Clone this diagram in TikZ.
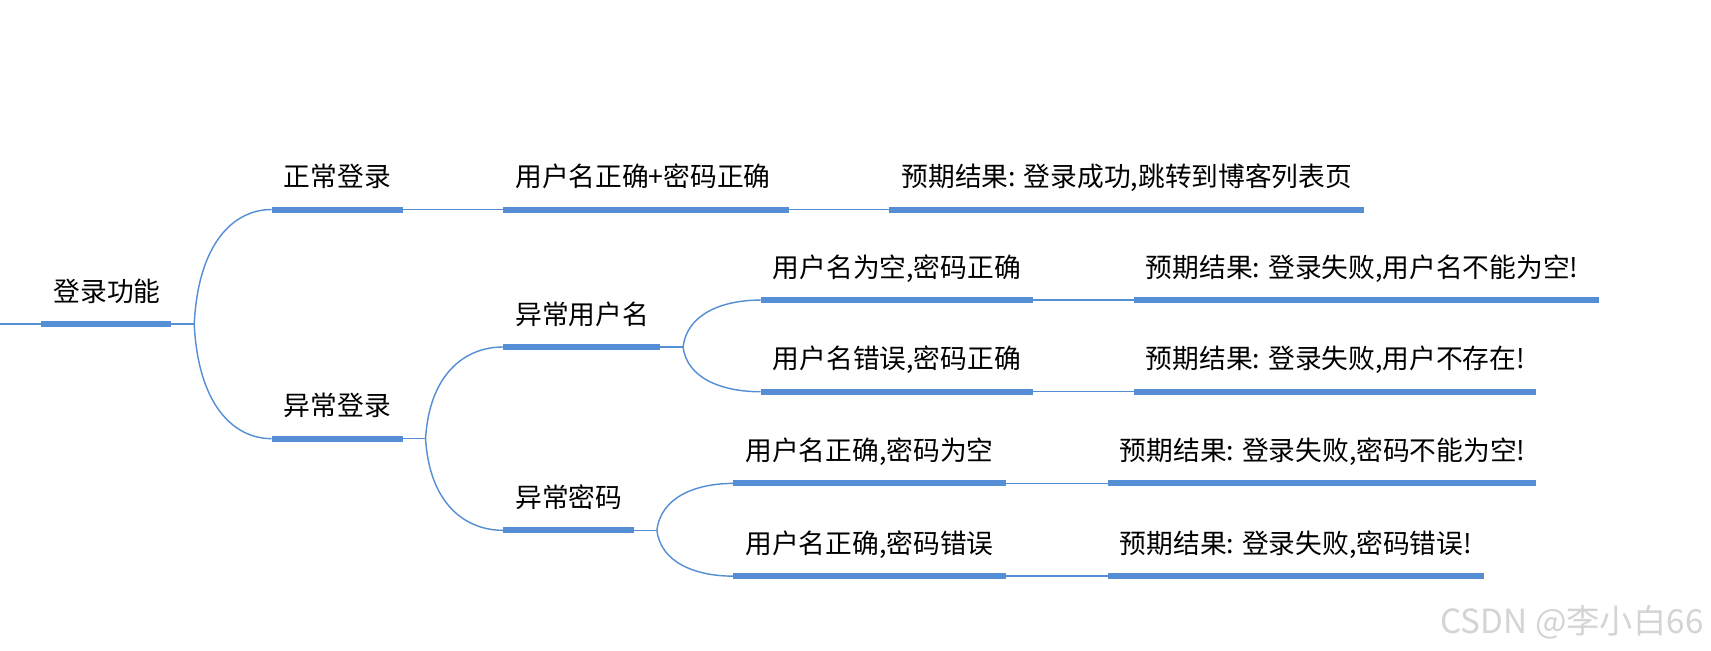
\documentclass[tikz,border=0pt]{standalone}
\usepackage{fontspec}
\setmainfont{Noto Sans CJK SC}
\usetikzlibrary{calc}
\definecolor{mblue}{HTML}{558ED5}
\definecolor{wmgray}{HTML}{D4D4D4}
\tikzset{
  bar/.style={draw=mblue, line width=5.5pt, line cap=butt},
  link/.style={draw=mblue, line width=1.3pt},
  lbl/.style={anchor=base west, inner sep=0pt, font=\fontsize{24.5}{28}\selectfont, text=black},
  wm/.style={anchor=west, inner sep=0pt, font=\fontsize{30.5}{33}\selectfont, text=wmgray},
}
\newcommand\topic[5]{%
  \coordinate (#1s) at (#2,#4);
  \coordinate (#1e) at (#3,#4);
  \draw[bar] (#1s) -- (#1e);
  \node[lbl] (#1) at ({#2+11},{#4-21}) {#5};
}
\newcommand\curvelink[2]{%
  \draw[link] let \p1=(#1), \p2=(#2) in (#1) .. controls ({\x1+0.05*(\x2-\x1)},{\y1+0.7*(\y2-\y1)}) and ({\x1+0.5*(\x2-\x1)},{\y2}) .. (#2);
}
\begin{document}
\begin{tikzpicture}[x=1pt,y=-1pt]
\useasboundingbox[fill=white] (0,0) rectangle (1568,596);
% topics
\topic{r}{38}{157}{297}{登录功能}
\topic{a}{249}{369}{192}{正常登录}
\topic{aa}{461}{723}{192}{用户名正确+密码正确}
\topic{aar}{815}{1250}{192}{预期结果: 登录成功,跳转到博客列表页}
\topic{b}{249}{369}{402}{异常登录}
\topic{ba}{461}{605}{318}{异常用户名}
\topic{baa}{697}{947}{275}{用户名为空,密码正确}
\topic{baar}{1039}{1465}{275}{预期结果: 登录失败,用户名不能为空!}
\topic{bab}{697}{947}{359}{用户名错误,密码正确}
\topic{babr}{1039}{1408}{359}{预期结果: 登录失败,用户不存在!}
\topic{bb}{461}{581}{486}{异常密码}
\topic{bba}{672}{922}{443}{用户名正确,密码为空}
\topic{bbar}{1015}{1408}{443}{预期结果: 登录失败,密码不能为空!}
\topic{bbb}{672}{922}{528}{用户名正确,密码错误}
\topic{bbbr}{1015}{1360}{528}{预期结果: 登录失败,密码错误!}
% junctions
\coordinate (L) at (0,297);
\coordinate (j0) at (178,297);
\coordinate (j1) at (390,402);
\coordinate (j2) at (626,318);
\coordinate (j3) at (602,486);
% straight links
\draw[link] (L) -- (rs);
\draw[link] (re) -- (j0);
\draw[link] (ae) -- (aas);
\draw[link] (aae) -- (aars);
\draw[link] (be) -- (j1);
\draw[link] (bae) -- (j2);
\draw[link] (baae) -- (baars);
\draw[link] (babe) -- (babrs);
\draw[link] (bbe) -- (j3);
\draw[link] (bbae) -- (bbars);
\draw[link] (bbbe) -- (bbbrs);
% curved links
\curvelink{j0}{as}
\curvelink{j0}{bs}
\curvelink{j1}{bas}
\curvelink{j1}{bbs}
\curvelink{j2}{baas}
\curvelink{j2}{babs}
\curvelink{j3}{bbas}
\curvelink{j3}{bbbs}
% watermark
\node[wm] (wmk) at (1320,570) {CSDN @李小白66};
\end{tikzpicture}
\end{document}
